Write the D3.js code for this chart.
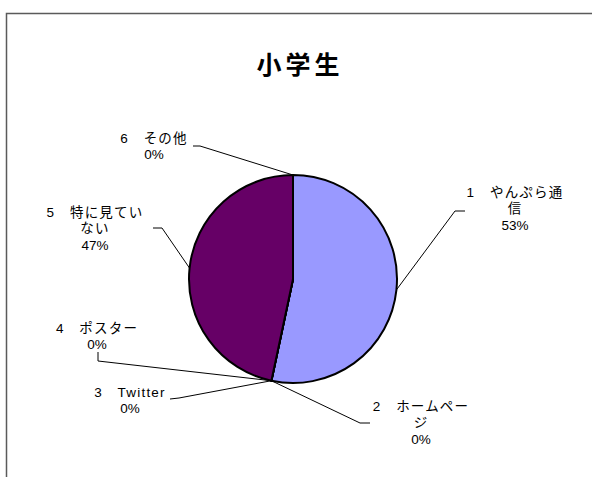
<!DOCTYPE html>
<html><head><meta charset="utf-8">
<script src="https://cdn.jsdelivr.net/npm/d3@7"></script>
<style>
html,body{margin:0;padding:0;background:#fff;}
svg{display:block;}
</style></head>
<body>
<svg id="chart" width="592" height="477"></svg>
<script>
// ---- data ----
const title = "小学生";
const categories = ["1　やんぷら通信", "2　ホームページ", "3　Twitter", "4　ポスター", "5　特に見ていない", "6　その他"];
const values = [8, 0, 0, 0, 7, 0];
const percentLabels = ["53%", "0%", "0%", "0%", "47%", "0%"];
// wrapped label lines (as shown in the chart)
const labelLines = [
  ["1　やんぷら通", "信"],
  ["2　ホームペー", "ジ"],
  ["3　Twitter"],
  ["4　ポスター"],
  ["5　特に見てい", "ない"],
  ["6　その他"]
];
const colors = ["#9999FF", "#993366", "#FFFFCC", "#CCFFFF", "#660066", "#FF8080"];

// ---- layout (label placement) ----
const labelLayout = [
  {x: 515, y: 197, knee: [455, 211], end: [465, 211]},
  {x: 421, y: 411, knee: [360, 423], end: [370, 423]},
  {x: 130, y: 397, knee: [179, 398], end: [170, 399]},
  {x: 97,  y: 333, knee: [98, 361],  end: [98, 352]},
  {x: 95,  y: 217, knee: [162, 228], end: [153, 228]},
  {x: 154, y: 143, knee: [200, 146], end: [193, 146]}
];

const svg = d3.select("#chart");
const W = 592, H = 477;
svg.append("rect").attr("width", W).attr("height", H).attr("fill", "#fff");
svg.append("rect").attr("x", 6.5).attr("y", 13.5).attr("width", 620).attr("height", 500)
  .attr("fill", "none").attr("stroke", "#5a5a5a").attr("stroke-width", 1.5);

const fontFam = "'Liberation Sans', Arial, 'Noto Sans CJK JP', sans-serif";

svg.append("text").attr("x", 300).attr("y", 74).attr("text-anchor", "middle")
  .attr("font-family", "'Noto Sans CJK JP', sans-serif").attr("font-weight", "bold")
  .attr("font-size", 25).attr("letter-spacing", 4).text(title);

const cx = 293, cy = 279, r = 104;
const g = svg.append("g").attr("transform", `translate(${cx},${cy})`);
const pie = d3.pie().sort(null).value(d => d)(values);
const arc = d3.arc().innerRadius(0).outerRadius(r);

g.selectAll("path.slice").data(pie).join("path")
  .attr("class", "slice")
  .attr("d", arc)
  .attr("fill", (d, i) => colors[i])
  .attr("stroke", "#000").attr("stroke-width", 2).attr("stroke-linejoin", "round");

// leader lines
pie.forEach((d, i) => {
  const a = (d.startAngle + d.endAngle) / 2;
  const ex = cx + r * Math.sin(a), ey = cy - r * Math.cos(a);
  const L = labelLayout[i];
  svg.append("polyline")
    .attr("points", [[ex, ey], L.knee, L.end].map(p => p.join(",")).join(" "))
    .attr("fill", "none").attr("stroke", "#000").attr("stroke-width", 1);
});

// labels
pie.forEach((d, i) => {
  const L = labelLayout[i];
  const lines = labelLines[i].concat([percentLabels[i]]);
  const t = svg.append("text").attr("text-anchor", "middle")
    .attr("font-family", fontFam).attr("font-size", 13.5).attr("fill", "#000");
  lines.forEach((s, j) => {
    t.append("tspan").attr("x", L.x)
      .attr("y", L.y + j * 16.3)
      .attr("letter-spacing", j === lines.length - 1 ? 0 : 1.2)
      .text(s);
  });
});
</script>
</body></html>
